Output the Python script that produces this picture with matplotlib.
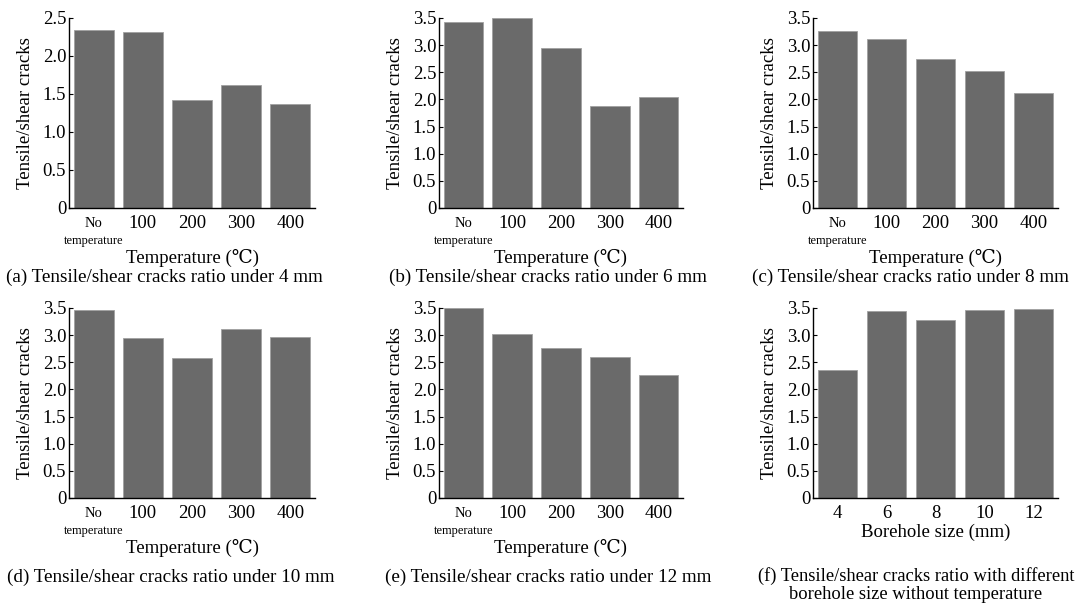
import numpy as np
import matplotlib
matplotlib.use("Agg")
import matplotlib.pyplot as plt

plt.rcParams['font.family'] = ['Liberation Serif', 'DejaVu Serif']

temp_labels = ['No\ntemperature', '100', '200', '300', '400']
bore_labels = ['4', '6', '8', '10', '12']

ratio_4mm = [2.34, 2.31, 1.42, 1.615, 1.365]
ratio_6mm = [3.43, 3.50, 2.945, 1.885, 2.045]
ratio_8mm = [3.26, 3.12, 2.75, 2.53, 2.11]
ratio_10mm = [3.457, 2.95, 2.57, 3.11, 2.97]
ratio_12mm = [3.50, 3.02, 2.766, 2.594, 2.27]
ratio_bore = [2.35, 3.44, 3.27, 3.46, 3.49]

captions = ['(a) Tensile/shear cracks ratio under 4 mm',
            '(b) Tensile/shear cracks ratio under 6 mm',
            '(c) Tensile/shear cracks ratio under 8 mm',
            '(d) Tensile/shear cracks ratio under 10 mm',
            '(e) Tensile/shear cracks ratio under 12 mm',
            '(f) Tensile/shear cracks ratio with different\nborehole size without temperature']

W, H = 1081, 607
fig = plt.figure(figsize=(W / 100, H / 100), dpi=100)

# axes boxes in pixels: left, top, right, bottom
boxes = [(69, 18, 315, 208), (439, 18, 683, 208), (813, 18, 1058, 208),
         (69, 308, 315, 498), (439, 308, 683, 498), (813, 308, 1058, 498)]
series = [ratio_4mm, ratio_6mm, ratio_8mm, ratio_10mm, ratio_12mm, ratio_bore]
ymaxs = [2.5, 3.5, 3.5, 3.5, 3.5, 3.5]
cap_x = [164, 548, 910, 171, 548, 916]
cap_y = [277, 277, 277, 577, 577, 585]
cap_size = [13.8, 13.8, 13.8, 13.8, 13.8, 13.3]

for i, (box, vals, ymax) in enumerate(zip(boxes, series, ymaxs)):
    l, t, r, b = box
    ax = fig.add_axes([l / W, 1 - b / H, (r - l) / W, (b - t) / H])
    x = np.arange(len(vals))
    ax.bar(x, vals, width=0.81, color='#6a6a6a', edgecolor='#a0a0a0', linewidth=0.6)
    ax.set_xlim(-0.5, 4.5)
    ax.set_ylim(0, ymax)
    yt = np.arange(0, ymax + 0.01, 0.5)
    ax.set_yticks(yt)
    ax.set_yticklabels(['0' if v == 0 else f'{v:.1f}' for v in yt], fontsize=13.5)
    ax.tick_params(axis='y', direction='in', length=3, width=0.8, pad=2)
    ax.tick_params(axis='x', length=0, pad=5)
    for s in ['top', 'right']:
        ax.spines[s].set_visible(False)
    for s in ['left', 'bottom']:
        ax.spines[s].set_linewidth(1.0)
    ax.set_ylabel('Tensile/shear cracks', fontsize=13.5, labelpad=6)
    ax.set_xticks(x)
    if i == 5:
        ax.set_xticklabels(bore_labels, fontsize=13.5)
        ax.set_xlabel('Borehole size (mm)', fontsize=13.5, labelpad=1)
    else:
        ax.set_xticklabels(['', '100', '200', '300', '400'], fontsize=13.5)
        ax.text(0, -0.045, 'No', transform=ax.get_xaxis_transform(),
                ha='center', va='top', fontsize=10.5)
        ax.text(0, -0.14, 'temperature', transform=ax.get_xaxis_transform(),
                ha='center', va='top', fontsize=9)
        ax.set_xlabel('Temperature (\u2103)', fontsize=13.5, labelpad=12)
    fig.text(cap_x[i] / W, 1 - cap_y[i] / H, captions[i], ha='center', va='center',
             fontsize=cap_size[i], linespacing=1.05)

plt.savefig('out.png', dpi=100)
